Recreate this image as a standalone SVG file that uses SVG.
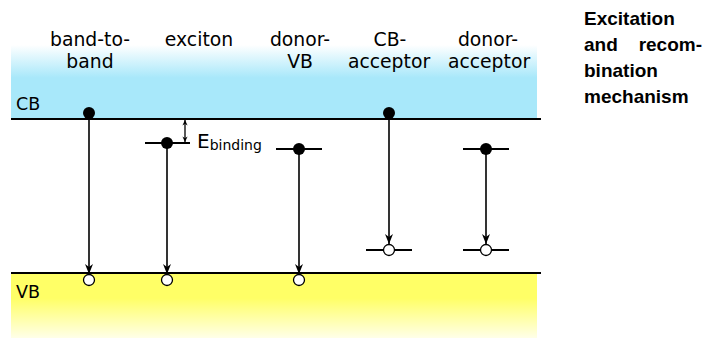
<svg xmlns="http://www.w3.org/2000/svg" width="709" height="338" viewBox="0 0 709 338">
<style>
.lbl{font-family:"DejaVu Sans",sans-serif;font-size:18.8px;fill:#000;text-anchor:middle}
.band{font-family:"DejaVu Sans",sans-serif;font-size:17.5px;fill:#000}
.title{font-family:"Liberation Sans",Arial,sans-serif;font-size:19px;font-weight:bold;fill:#000}
.edge{stroke:#000;stroke-width:2;fill:none}
.lvl{stroke:#000;stroke-width:2.2;fill:none}
.tr{stroke:#000;stroke-width:1.6;fill:none;marker-end:url(#ah)}
.e{fill:#000}
.h{fill:#fff;stroke:#000;stroke-width:1.3}
</style>
<defs>
<linearGradient id="gb" x1="0" y1="45" x2="0" y2="118" gradientUnits="userSpaceOnUse">
<stop offset="0" stop-color="#ffffff"/>
<stop offset="0.45" stop-color="#a8e8fa"/>
<stop offset="1" stop-color="#a8e8fa"/>
</linearGradient>
<linearGradient id="gy" x1="0" y1="273" x2="0" y2="345" gradientUnits="userSpaceOnUse">
<stop offset="0" stop-color="#ffff66"/>
<stop offset="0.35" stop-color="#ffff66"/>
<stop offset="1" stop-color="#ffffff"/>
</linearGradient>
<marker id="ah" markerUnits="userSpaceOnUse" markerWidth="13" markerHeight="11" viewBox="-11 -5.5 12 11" refX="0" refY="0" orient="auto">
<path d="M0,0 L-10,-4 L-7,0 L-10,4 Z" fill="#000"/>
</marker>
<marker id="as" markerUnits="userSpaceOnUse" markerWidth="8" markerHeight="7" viewBox="-6.5 -3.5 7.5 7" refX="0" refY="0" orient="auto-start-reverse">
<path d="M0,0 L-5.5,-2.6 L-3.8,0 L-5.5,2.6 Z" fill="#000"/>
</marker>
</defs>

<g id="bands">
<rect x="11" y="45" width="526" height="74" fill="url(#gb)"/>
<rect x="11" y="273" width="526" height="65" fill="url(#gy)"/>
<line class="edge" x1="11" y1="119" x2="541" y2="119"/>
<line class="edge" x1="11" y1="273" x2="541" y2="273"/>
<text class="band" x="16" y="110">CB</text>
<text class="band" x="16" y="298">VB</text>
</g>

<g id="labels">
<text class="lbl" x="90" y="46">band-to-</text>
<text class="lbl" x="90" y="68">band</text>
<text class="lbl" x="199" y="46">exciton</text>
<text class="lbl" x="300" y="46">donor-</text>
<text class="lbl" x="300" y="68">VB</text>
<text class="lbl" x="390" y="46">CB-</text>
<text class="lbl" x="389" y="68">acceptor</text>
<text class="lbl" x="488" y="46">donor-</text>
<text class="lbl" x="489" y="68">acceptor</text>
</g>

<g id="title">
<text class="title" x="584" y="25">Excitation</text>
<text class="title" x="584" y="51">and</text>
<text class="title" x="702" y="51" text-anchor="end">recom-</text>
<text class="title" x="584" y="77">bination</text>
<text class="title" x="584" y="103">mechanism</text>
</g>

<g id="connectors">
<line class="tr" x1="89" y1="113" x2="89" y2="274"/>
<line class="tr" x1="167" y1="143" x2="167" y2="274"/>
<line class="tr" x1="299" y1="149" x2="299" y2="274"/>
<line class="tr" x1="389" y1="113" x2="389" y2="244"/>
<line class="tr" x1="486" y1="149" x2="486" y2="244"/>
<line x1="185" y1="120" x2="185" y2="142" stroke="#000" stroke-width="1.3" marker-start="url(#as)" marker-end="url(#as)"/>
</g>

<g id="band-to-band">
<circle class="e" cx="89" cy="113" r="6"/>
<circle class="h" cx="89" cy="280" r="5.5"/>
</g>

<g id="exciton">
<line class="lvl" x1="145" y1="143" x2="190" y2="143"/>
<circle class="e" cx="167" cy="143" r="6"/>
<circle class="h" cx="167" cy="280" r="5.5"/>
<text font-family="DejaVu Sans, sans-serif" font-size="20" x="197" y="148">E<tspan font-size="14" dy="2">binding</tspan></text>
</g>

<g id="donor-VB">
<line class="lvl" x1="276" y1="149" x2="322" y2="149"/>
<circle class="e" cx="299" cy="149" r="6"/>
<circle class="h" cx="299" cy="280" r="5.5"/>
</g>

<g id="CB-acceptor">
<circle class="e" cx="389" cy="113" r="6"/>
<line class="lvl" x1="366" y1="250" x2="412" y2="250"/>
<circle class="h" cx="389" cy="250" r="5.5"/>
</g>

<g id="donor-acceptor">
<line class="lvl" x1="463" y1="149" x2="509" y2="149"/>
<circle class="e" cx="486" cy="149" r="6"/>
<line class="lvl" x1="463" y1="250" x2="509" y2="250"/>
<circle class="h" cx="486" cy="250" r="5.5"/>
</g>
</svg>
